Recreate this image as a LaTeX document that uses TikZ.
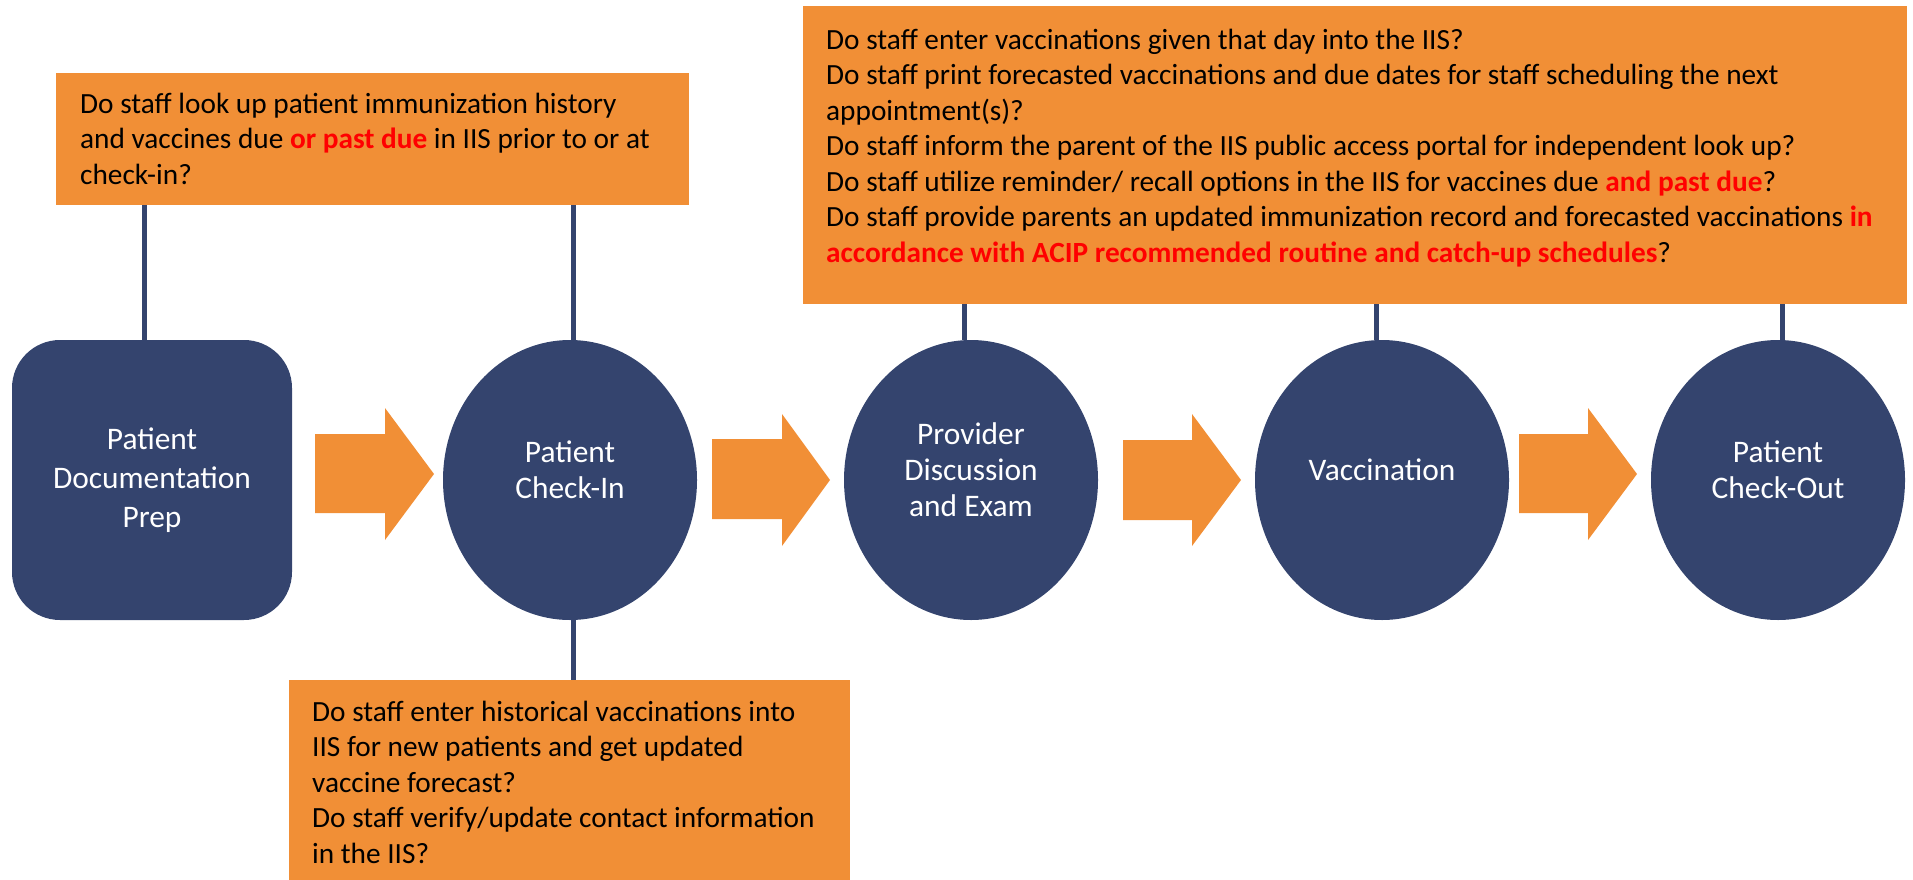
\documentclass[tikz,border=0pt]{standalone}
\usepackage{fontspec}
\setmainfont{Carlito}
\usetikzlibrary{shapes.geometric}
\definecolor{navy}{RGB}{52,68,110}
\definecolor{orng}{RGB}{241,143,54}
\definecolor{redtxt}{RGB}{255,0,0}
\newcommand{\hlred}[1]{\textcolor{redtxt}{\textbf{#1}}}
\newcommand{\liftup}{\rule[-20pt]{0pt}{0pt}}
\begin{document}
\begin{tikzpicture}[x=1pt,y=-1pt,
  stage/.style={fill=navy, text=white, align=center, inner sep=0pt, font=\fontsize{31.4}{39}\selectfont},
  oval/.style={stage, ellipse, minimum width=254, minimum height=280, font=\fontsize{31.4}{36}\selectfont},
  qbox/.style={fill=orng, rectangle, inner sep=0pt, anchor=north west},
  qtext/.style={align=left, anchor=base west, inner sep=0pt, text=black, font=\fontsize{29.3}{35.5}\selectfont},
  conn/.style={draw=navy, line width=5pt},
  blockarrow/.style={fill=orng}]
\useasboundingbox (0,0) rectangle (1913,880);

% question boxes
\node[qbox, minimum width=633, minimum height=132] (boxA) at (56,73) {};
\node[qbox, minimum width=1104, minimum height=298] (boxB) at (803,6) {};
\node[qbox, minimum width=561, minimum height=200] (boxC) at (289,680) {};

% stages
\node[stage, rectangle, rounded corners=48pt, minimum width=280, minimum height=280] (prep) at (152,480) {Patient\\Documentation\\Prep};
\node[oval] (checkin) at (570,480) {Patient\\Check-In\liftup};
\node[oval] (prov) at (971,480) {Provider\\Discussion\\and Exam\liftup};
\node[oval] (vacc) at (1382,480) {Vaccination\liftup};
\node[oval] (checkout) at (1778,480) {Patient\\Check-Out\liftup};

% connectors
\draw[conn] ([xshift=-8pt]prep.north) -- ([xshift=-8pt]prep.north |- boxA.south);
\draw[conn] ([xshift=3pt]checkin.north) -- ([xshift=3pt]checkin.north |- boxA.south);
\draw[conn] ([xshift=3pt]checkin.south) -- ([xshift=3pt]checkin.south |- boxC.north);
\draw[conn] ([xshift=-7pt]prov.north) -- ([xshift=-7pt]prov.north |- boxB.south);
\draw[conn] ([xshift=-6pt]vacc.north) -- ([xshift=-6pt]vacc.north |- boxB.south);
\draw[conn] ([xshift=4pt]checkout.north) -- ([xshift=4pt]checkout.north |- boxB.south);

% block arrows
\fill[blockarrow] (315,434) -- (385,434) -- (385,408) -- (434,474) -- (385,540) -- (385,513) -- (315,513) -- cycle;
\fill[blockarrow] (712,439) -- (782,439) -- (782,414) -- (830,480) -- (782,546) -- (782,519) -- (712,519) -- cycle;
\fill[blockarrow] (1123,440) -- (1192,440) -- (1192,414) -- (1241,480) -- (1192,546) -- (1192,520) -- (1123,520) -- cycle;
\fill[blockarrow] (1519,434) -- (1588,434) -- (1588,408) -- (1637,474) -- (1588,540) -- (1588,513) -- (1519,513) -- cycle;

% question texts (anchored at the baseline of their last line)
\node[qtext] (tA) at (80,184) {Do staff look up patient immunization history\\and vaccines due \hlred{or past due} in IIS prior to or at\\check-in?};
\node[qtext] (tB) at (826,262) {Do staff enter vaccinations given that day into the IIS?\\Do staff print forecasted vaccinations and due dates for staff scheduling the next\\appointment(s)?\\Do staff inform the parent of the IIS public access portal for independent look up?\\Do staff utilize reminder/ recall options in the IIS for vaccines due \hlred{and past due}?\\Do staff provide parents an updated immunization record and forecasted vaccinations \hlred{in}\\\hlred{accordance with ACIP recommended routine and catch-up schedules}?};
\node[qtext] (tC) at (312,863) {Do staff enter historical vaccinations into\\IIS for new patients and get updated\\vaccine forecast?\\Do staff verify/update contact information\\in the IIS?};
\end{tikzpicture}
\end{document}
